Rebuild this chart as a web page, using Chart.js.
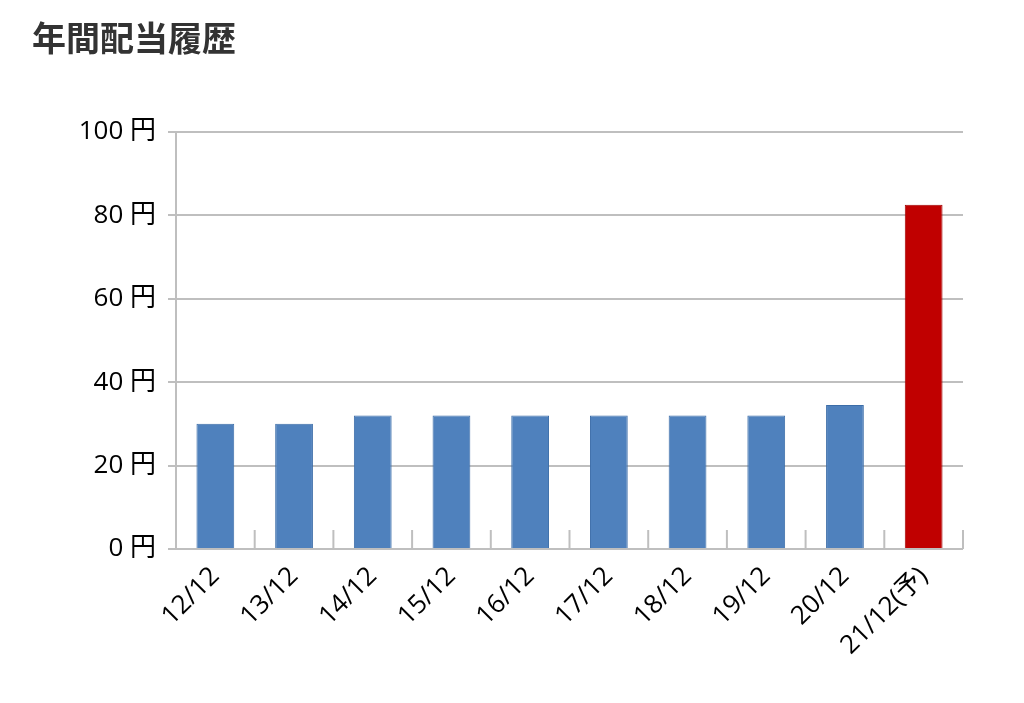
<!DOCTYPE html>
<html><head><meta charset="utf-8">
<script src="https://cdn.jsdelivr.net/npm/chart.js@4/dist/chart.umd.min.js"></script>
<style>html,body{margin:0;padding:0;background:#fff;}#wrap{width:1024px;height:703px;position:relative;}</style>
</head><body><div id="wrap"><canvas id="c"></canvas></div>
<script>
const categories = ["12/12","13/12","14/12","15/12","16/12","17/12","18/12","19/12","20/12","21/12(予)"];
const dividends = [30,30,32,32,32,32,32,32,34.5,82.5];
const barColors = ["#4F81BD","#4F81BD","#4F81BD","#4F81BD","#4F81BD","#4F81BD","#4F81BD","#4F81BD","#4F81BD","#C00000"];
const FONT = "'Open Sans','Noto Sans CJK JP',sans-serif";
const upTicks = {
  id:'upTicks',
  afterDatasetsDraw(chart){
    const x = chart.scales.x, ctx = chart.ctx, b = chart.chartArea.bottom;
    ctx.save(); ctx.strokeStyle='#BFBFBF'; ctx.lineWidth=2;
    const step = x.getPixelForValue(1)-x.getPixelForValue(0);
    for(let i=0;i<=categories.length;i++){
      const px = x.getPixelForValue(0) + (i-0.5)*step;
      ctx.beginPath(); ctx.moveTo(px,b-19); ctx.lineTo(px,b); ctx.stroke();
    }
    ctx.beginPath(); ctx.moveTo(chart.chartArea.left,b); ctx.lineTo(chart.chartArea.right,b); ctx.stroke();
    ctx.restore();
  }
};
new Chart(document.getElementById('c'),{
  type:'bar',
  data:{labels:categories,datasets:[{data:dividends,backgroundColor:barColors,borderColor:barColors.map(c=>c==="#C00000"?"#A00000":"#3C6DA8"),borderWidth:1,barPercentage:0.48,categoryPercentage:1}]},
  options:{
    responsive:true,maintainAspectRatio:false,animation:false,
    layout:{padding:{left:32,right:61,top:18,bottom:0}},
    plugins:{legend:{display:false},tooltip:{enabled:false},
      title:{display:true,text:'年間配当履歴',align:'start',color:'#333',font:{family:"'Noto Sans CJK JP',sans-serif",size:34,weight:'bold',lineHeight:1.2},padding:{top:0,bottom:73}}},
    scales:{
      x:{grid:{display:false},border:{display:false},
        afterFit:s=>{s.height=154;},
        ticks:{color:'#000',font:{family:FONT,size:26},maxRotation:45,minRotation:45,padding:4}},
      y:{min:0,max:100,
        afterFit:s=>{s.width=144;},
        ticks:{stepSize:20,color:'#000',font:{family:FONT,size:26},padding:12,callback:v=>v+' 円'},
        grid:{color:'#BFBFBF',lineWidth:2,drawTicks:true,tickLength:8},
        border:{display:true,color:'#BFBFBF',width:2}}
    }
  },
  plugins:[upTicks]
});
</script></body></html>
